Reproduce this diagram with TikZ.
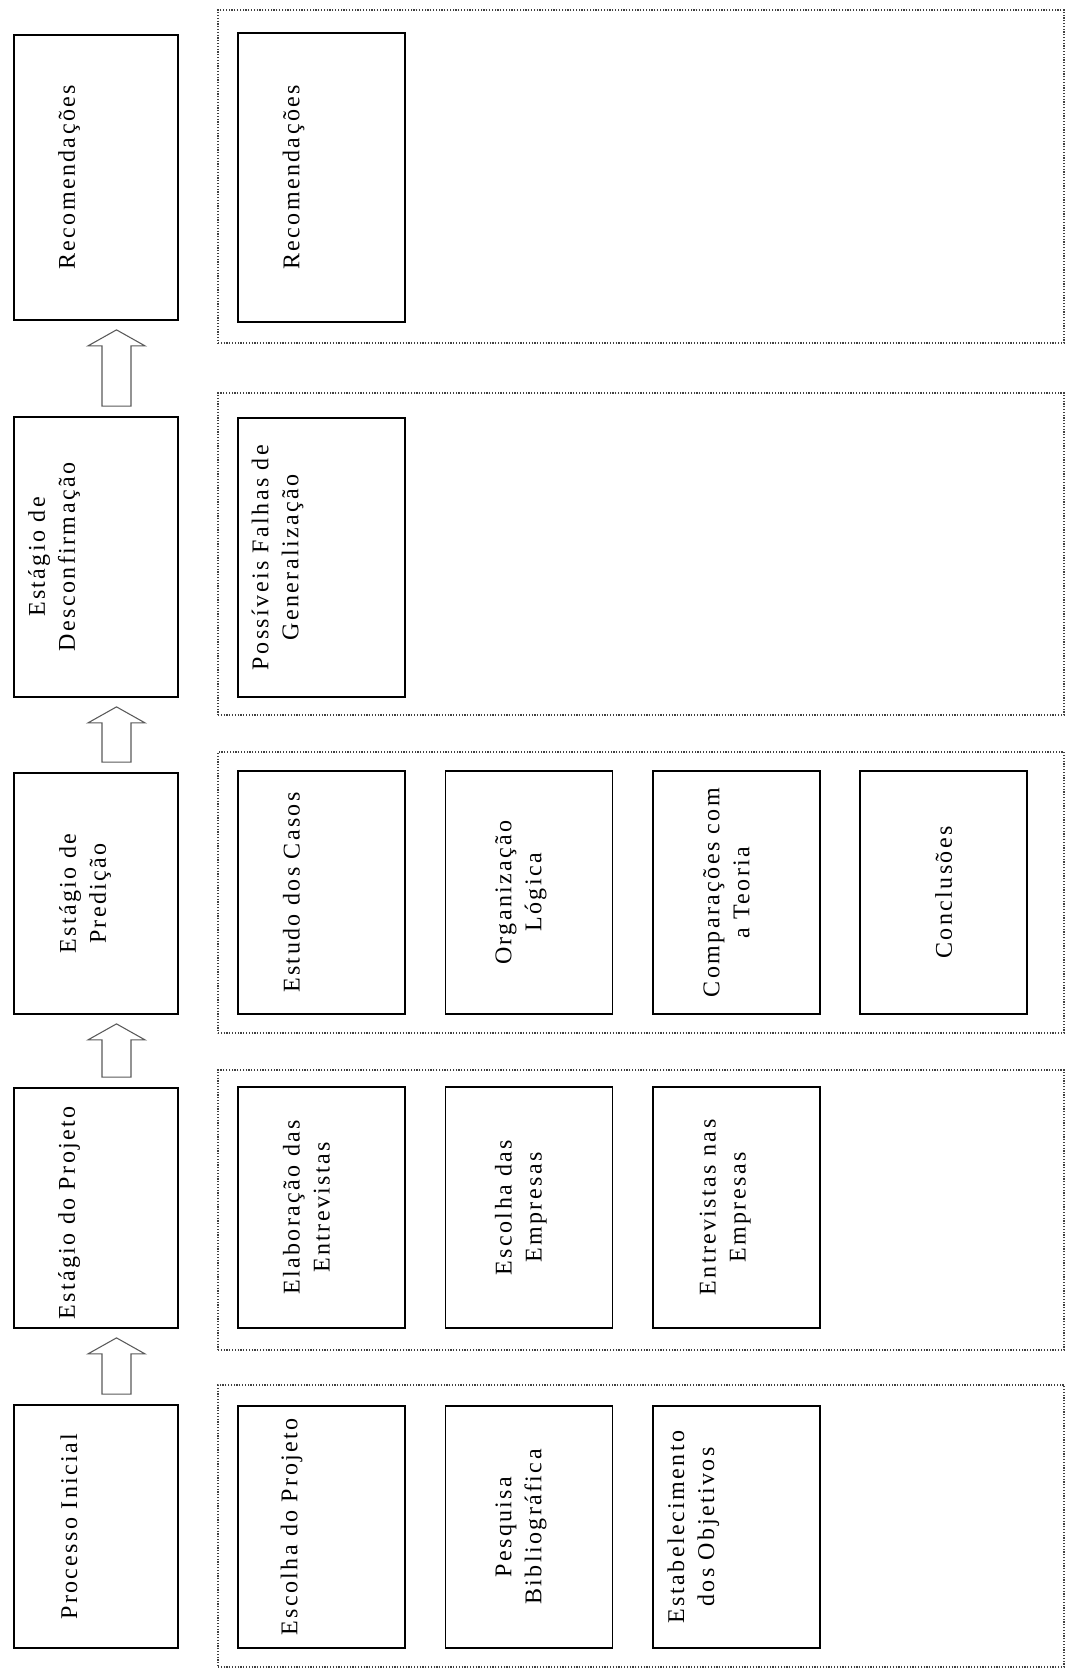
\documentclass[tikz,border=0pt]{standalone}
\usepackage{fontspec}
\setmainfont{Liberation Serif}[LetterSpace=10]
\usepackage{tikz}
\usetikzlibrary{positioning, calc}

\begin{document}
\begin{tikzpicture}[
x=0.75pt, y=-0.75pt,
node distance=29pt,
every node/.style={font=\fontsize{18}{22.5}\selectfont},
stagebox/.style={draw, line width=1.3pt, rectangle, minimum width=123pt, inner sep=0pt},
subbox/.style={draw, line width=1.3pt, rectangle, minimum width=125.25pt, inner sep=0pt},
group/.style={draw, black!75, line width=0.9pt, dash pattern=on 0.9pt off 1.2pt, rectangle, minimum width=634.5pt, inner sep=0pt},
lbl/.style={rotate=90, align=center, inner sep=0pt},
flow/.style={draw, black!65, line width=0.8pt}
]
\useasboundingbox (0,0) rectangle (1067,1673);

% stages
\node[stagebox, minimum height=213.75pt] (rec) at (96,177.5) {};
\node[stagebox, minimum height=210pt] (desc) at (96,557) {};
\node[stagebox, minimum height=180.75pt] (pred) at (96,893.5) {};
\node[stagebox, minimum height=180pt] (proj) at (96,1208) {};
\node[stagebox, minimum height=182.25pt] (ini) at (96,1526.5) {};

\node[lbl] (rec-t) at ($(rec)+(-27,0)$) {Recomendações};
\node[lbl] (desc-t) at ($(desc)+(-42,0)$) {Estágio de\\Desconfirmação};
\node[lbl] (pred-t) at ($(pred)+(-11,0)$) {Estágio de\\Predição};
\node[lbl] (proj-t) at ($(proj)+(-27,5)$) {Estágio do Projeto};
\node[lbl] (ini-t) at ($(ini)+(-27,0)$) {Processo Inicial};

% block arrows between stages
\foreach \lo/\up in {ini/proj, proj/pred, pred/desc, desc/rec} {
  \draw[flow] ($(\up.south)+(20.5,9)$) -- ++(28.5,16) coordinate (rw)
    -- ++(-14,0) -- ($(\lo.north)+(35,-10)$) -- ++(-29,0)
    |- ($(rw)+(-57,0)$) -- cycle;
}

% groups
\node[group, minimum height=249.75pt] (gRec) at (641,176.5) {};
\node[group, minimum height=241.5pt] (gDesc) at (641,554) {};
\node[group, minimum height=210.75pt] (gPred) at (641,892.5) {};
\node[group, minimum height=210pt] (gProj) at (641,1210) {};
\node[group, minimum height=211.5pt] (gIni) at (641,1526) {};

% activities
\node[subbox, minimum height=216.75pt] (rec1) at (321.5,177.5) {};
\node[subbox, minimum height=209.25pt] (desc1) at (321.5,557.5) {};

\node[subbox, minimum height=182.25pt] (pred1) at (321.5,892.5) {};
\node[subbox, minimum height=182.25pt, right=of pred1] (pred2) {};
\node[subbox, minimum height=182.25pt, right=of pred2] (pred3) {};
\node[subbox, minimum height=182.25pt, right=of pred3] (pred4) {};

\node[subbox, minimum height=180.75pt] (proj1) at (321.5,1207.5) {};
\node[subbox, minimum height=180.75pt, right=of proj1] (proj2) {};
\node[subbox, minimum height=180.75pt, right=of proj2] (proj3) {};

\node[subbox, minimum height=181.5pt] (ini1) at (321.5,1527) {};
\node[subbox, minimum height=181.5pt, right=of ini1] (ini2) {};
\node[subbox, minimum height=181.5pt, right=of ini2] (ini3) {};

\node[lbl] (rec1-t) at ($(rec1)+(-28,0)$) {Recomendações};
\node[lbl] (desc1-t) at ($(desc1)+(-44,0)$) {Possíveis Falhas de\\Generalização};

\node[lbl] (pred1-t) at ($(pred1)+(-30,0)$) {Estudo dos Casos};
\node[lbl] (pred2-t) at ($(pred2)+(-8,0)$) {Organização\\Lógica};
\node[lbl] (pred3-t) at ($(pred3)+(-10,0)$) {Comparações com\\a Teoria};
\node[lbl] (pred4-t) at (pred4) {Conclusões};

\node[lbl] (proj1-t) at ($(proj1)+(-15,0)$) {Elaboração das\\Entrevistas};
\node[lbl] (proj2-t) at ($(proj2)+(-8,0)$) {Escolha das\\Empresas};
\node[lbl] (proj3-t) at ($(proj3)+(-11,0)$) {Entrevistas nas\\Empresas};

\node[lbl] (ini1-t) at ($(ini1)+(-30,0)$) {Escolha do Projeto};
\node[lbl] (ini2-t) at ($(ini2)+(-8,0)$) {Pesquisa\\Bibliográfica};
\node[lbl] (ini3-t) at ($(ini3)+(-43,0)$) {Estabelecimento\\dos Objetivos};

\end{tikzpicture}
\end{document}
